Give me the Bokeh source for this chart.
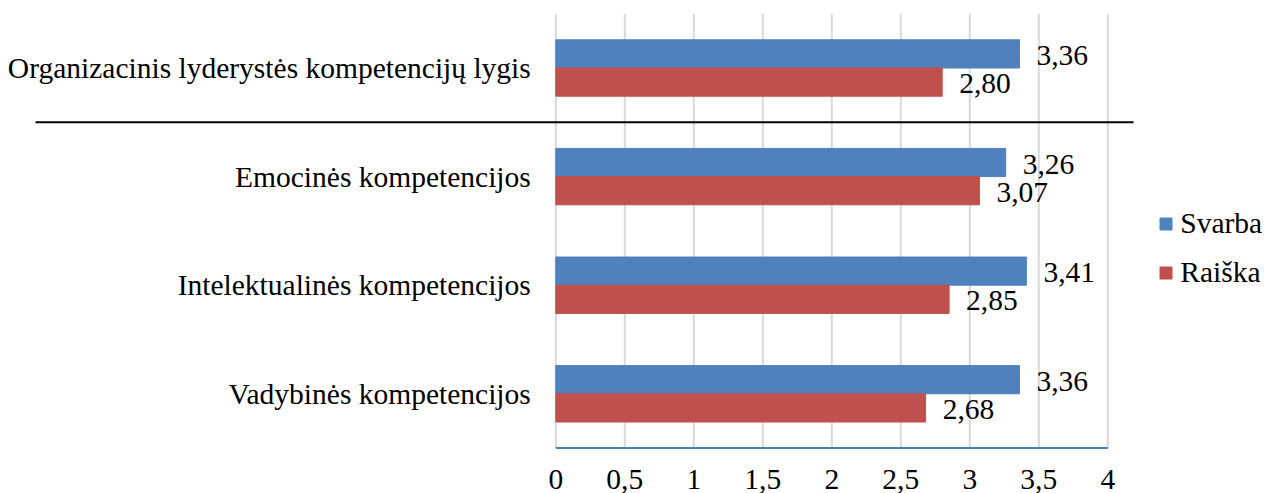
from bokeh.plotting import figure
from bokeh.models import Range1d, Legend, LegendItem
from bokeh.core.properties import value
from bokeh.embed import file_html
from bokeh.resources import INLINE

# ---- data ----
categories = [
    "Organizacinis lyderystės kompetencijų lygis",
    "Emocinės kompetencijos",
    "Intelektualinės kompetencijos",
    "Vadybinės kompetencijos",
]
svarba = [3.36, 3.26, 3.41, 3.36]
raiska = [2.80, 3.07, 2.85, 2.68]
series_names = ["Svarba", "Raiška"]
tick_values = [0, 0.5, 1, 1.5, 2, 2.5, 3, 3.5, 4]
tick_labels = ["0", "0,5", "1", "1,5", "2", "2,5", "3", "3,5", "4"]

# ---- layout (screen geometry) ----
W, H = 1275, 493
X0_PX = 555.3        # screen x of value 0
PX_PER_X = 138.0     # pixels per unit of value
BASE_PX = 447.6      # screen y of the category axis bottom
PX_PER_Y = 108.6     # pixels per category band

FONT_NAME = "Liberation Serif"
FONT = value(FONT_NAME)
FS = "29.5px"
BLUE = "#4F81BD"
RED = "#C0504D"
GRID = "#d9d9d9"


def sx(px):
    return (px - X0_PX) / PX_PER_X


x_start, x_end = sx(0), sx(W)
y_start = -(H - BASE_PX) / PX_PER_Y
y_end = BASE_PX / PX_PER_Y

n = len(categories)
centers = [n - 0.5 - i for i in range(n)]
bar_h = 28.2 / PX_PER_Y
blue_y = [c + bar_h / 2 for c in centers]
red_y = [c - bar_h / 2 for c in centers]

p = figure(width=W, height=H, x_range=Range1d(x_start, x_end), y_range=Range1d(y_start, y_end),
           output_backend="svg", toolbar_location=None, x_axis_type=None, y_axis_type=None,
           min_border=0, outline_line_color=None, background_fill_color="white",
           border_fill_color="white")

# vertical gridlines (incl. value axis at 0)
p.segment(x0=tick_values, y0=[0] * len(tick_values), x1=tick_values, y1=[n] * len(tick_values),
          line_color=GRID, line_width=2)

# bars
rb = p.hbar(y=blue_y, right=svarba, left=0, height=bar_h, fill_color=BLUE, line_color=BLUE, line_width=1)
rr = p.hbar(y=red_y, right=raiska, left=0, height=bar_h, fill_color=RED, line_color=RED, line_width=1)

# bottom axis line
p.segment(x0=[0], y0=[0], x1=[tick_values[-1]], y1=[0], line_color="#4a7ebb", line_width=2)

# separator line between summary row and the rest
p.segment(x0=[sx(35)], y0=[n - 1], x1=[sx(1133)], y1=[n - 1], line_color="black", line_width=2)

# value labels
p.text(x=svarba, y=blue_y, text=[f"{v:.2f}".replace(".", ",") for v in svarba],
       x_offset=17, y_offset=1.5, text_align="left", text_baseline="middle",
       text_font=FONT, text_font_size=FS, text_color="black")
p.text(x=raiska, y=red_y, text=[f"{v:.2f}".replace(".", ",") for v in raiska],
       x_offset=17, y_offset=1.5, text_align="left", text_baseline="middle",
       text_font=FONT, text_font_size=FS, text_color="black")

# category labels
p.text(x=[0] * n, y=centers, text=categories, x_offset=-25, text_align="right",
       text_baseline="middle", text_font=FONT, text_font_size=FS, text_color="black")

# tick labels
p.text(x=tick_values, y=[0] * len(tick_values), text=tick_labels, y_offset=31,
       text_align="center", text_baseline="middle", text_font=FONT, text_font_size=FS,
       text_color="black")

legend = Legend(items=[LegendItem(label=series_names[0], renderers=[rb]),
                       LegendItem(label=series_names[1], renderers=[rr])],
                location=(1158.3, H - (273.3 + 16)))
legend.label_text_font = FONT_NAME
legend.label_text_font_size = FS
legend.label_text_color = "black"
legend.glyph_width = 15
legend.glyph_height = 15
legend.label_standoff = 7
legend.spacing = 16
legend.padding = 0
legend.margin = 0
legend.border_line_color = None
legend.background_fill_alpha = 0
p.add_layout(legend)

open("out.html", "w").write(file_html(p, INLINE))
